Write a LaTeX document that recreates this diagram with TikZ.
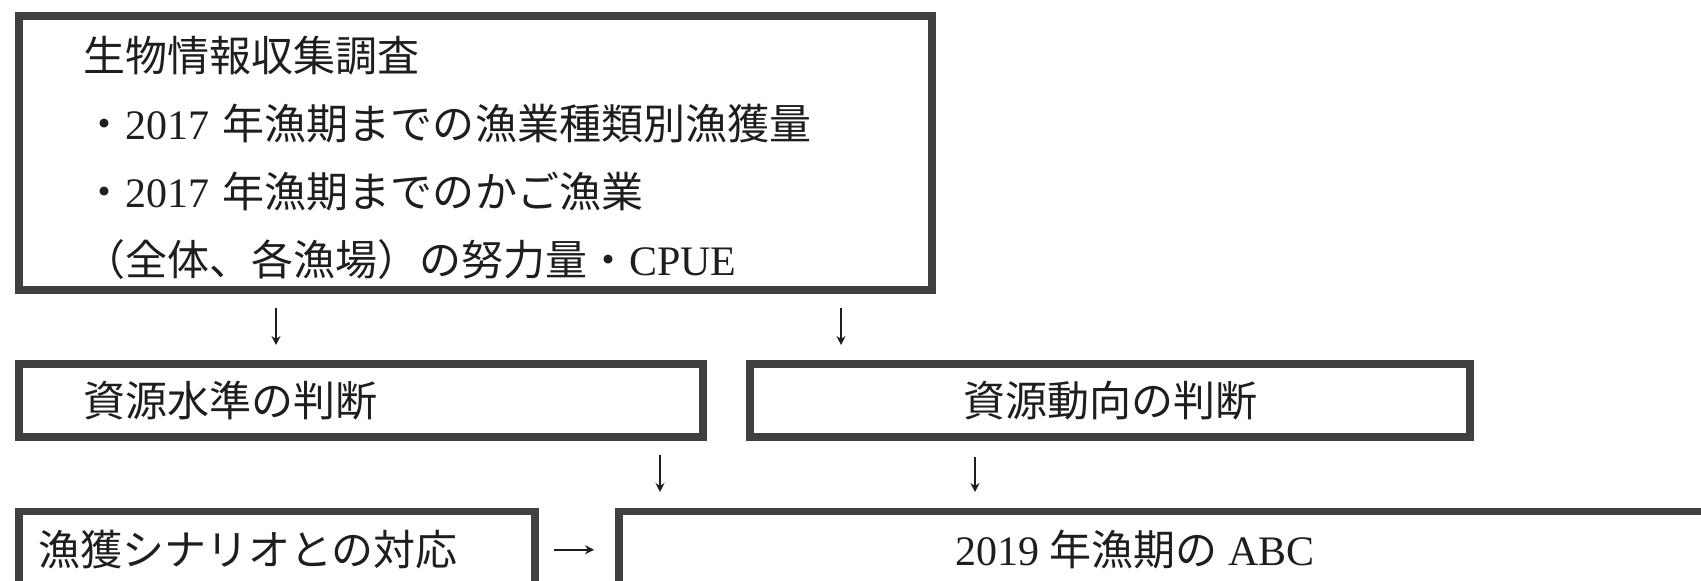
\documentclass[tikz,border=0pt]{standalone}
\usepackage{fontspec}
\setmainfont{Noto Sans CJK JP}
\newfontfamily\tm{Liberation Serif}
\usetikzlibrary{calc,arrows.meta}
\definecolor{boxgray}{RGB}{64,64,64}
\definecolor{ink}{RGB}{30,30,30}
\tikzset{
  box/.style={draw=boxgray, line width=3.8pt, rectangle, outer sep=0pt, inner ysep=0pt,
    text=ink, font=\fontsize{21pt}{34pt}\selectfont, anchor=north west},
  txt/.style={text=ink, font=\fontsize{21pt}{34pt}\selectfont, inner sep=0pt},
  arr/.style={draw=ink, line width=1pt, -{Stealth[length=4.5pt,width=4.5pt]}}
}
\begin{document}
\begin{tikzpicture}[x=0.5pt,y=-0.5pt]
\useasboundingbox (0,0) rectangle (1701,581);
\fill[white] (0,0) rectangle (1701,581);
\clip (0,0) rectangle (1701,581);
% top box
\node[box, minimum width=456.5pt, minimum height=137pt, inner xsep=32pt,
      text width=392.5pt, align=left] (survey) at (19,16)
  {\rule{0pt}{22.5pt}生物情報収集調査\\
   ・{\tm 2017 }年漁期までの漁業種類別漁獲量\\
   ・{\tm 2017 }年漁期までのかご漁業\\
   （全体、各漁場）の努力量・{\tm CPUE}};
% middle row
\node[box, minimum width=342pt, minimum height=36.5pt, inner xsep=32pt,
      text width=278pt, align=left] (level) at (19,364) {資源水準の判断};
\node[box, minimum width=360pt, minimum height=36.5pt, align=center] (trend) at (750,364) {資源動向の判断};
% bottom row
\node[box, minimum width=258pt, minimum height=38.25pt, inner xsep=9.5pt,
      text width=239pt, align=left] (scen) at (19,511.5) {漁獲シナリオとの対応};
\node[box, minimum width=551pt, minimum height=38.25pt] (abc) at (619,511.5) {};
\node[txt] (abctext) at (1135,549.5) {{\tm 2019 }年漁期の{\tm\ ABC}};
% arrows
\draw[arr] ($(survey.south west)+(257,18)$) -- ($(level.north west)+(257,-19)$);
\draw[arr] ($(survey.south west)+(822,18)$) -- ($(trend.north west)+(91,-19)$);
\draw[arr] ($(level.south west)+(641,18)$) -- ($(abc.north west)+(41,-19.5)$);
\draw[arr] ($(trend.south west)+(225,20)$) -- ($(abc.north west)+(356,-19.5)$);
\draw[arr] ($(scen.east)+(19,0)$) -- ($(abc.west)+(-25,0)$);
\end{tikzpicture}
\end{document}
